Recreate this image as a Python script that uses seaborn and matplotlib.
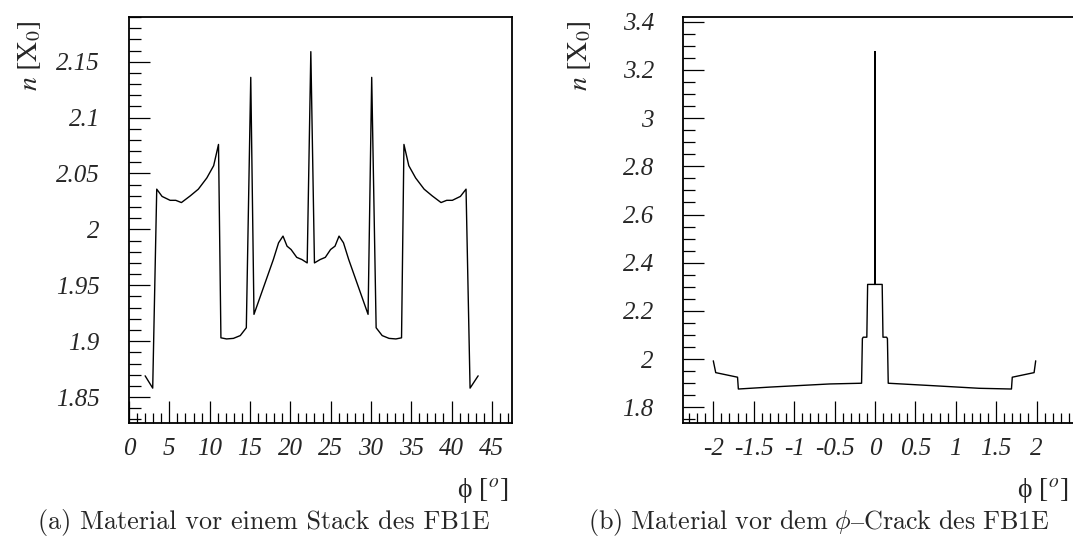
import numpy as np
import pandas as pd
import seaborn as sns
import matplotlib.pyplot as plt
from matplotlib.ticker import MultipleLocator

# (a) material in front of one stack, phi in degrees
phi_a = [2.0, 2.94, 3.44, 4.1, 5.1, 5.8, 6.5, 7.6, 8.6, 9.65,
         10.5, 11.1, 11.4, 12.1, 12.95, 13.8, 14.55, 15.1, 15.5, 17.9,
         18.55, 19.1, 19.6, 20.1, 20.8, 21.45, 22.1, 22.55, 23.0, 23.7,
         24.35, 25.0, 25.55, 26.05, 26.6, 27.25, 29.65, 30.1, 30.65, 31.4,
         32.25, 33.1, 33.8, 34.1, 34.7, 35.55, 36.6, 37.6, 38.7, 39.4,
         40.1, 41.1, 41.8, 42.3, 43.3]
n_a = [1.869, 1.858, 2.036, 2.0295, 2.026, 2.026, 2.024, 2.030, 2.036, 2.046,
       2.057, 2.076, 1.903, 1.902, 1.9025, 1.905, 1.912, 2.136, 1.924, 1.973,
       1.988, 1.994, 1.985, 1.982, 1.975, 1.973, 1.970, 2.159, 1.970, 1.973,
       1.975, 1.982, 1.985, 1.994, 1.988, 1.973, 1.924, 2.136, 1.912, 1.905,
       1.9025, 1.902, 1.903, 2.076, 2.057, 2.046, 2.036, 2.030, 2.024, 2.026,
       2.026, 2.0295, 2.036, 1.858, 1.869]

# (b) material in front of the phi crack
phi_b = [-2.0, -1.97, -1.70, -1.69, -1.30, -0.56, -0.165, -0.155, -0.145, -0.10,
         -0.09, 0.0, 0.0, 0.0, 0.09, 0.10, 0.145, 0.155, 0.165, 0.71,
         1.29, 1.69, 1.70, 1.97, 1.99]
n_b = [1.993, 1.944, 1.925, 1.876, 1.884, 1.897, 1.900, 2.085, 2.091, 2.091,
       2.310, 2.310, 3.276, 2.310, 2.310, 2.091, 2.091, 2.085, 1.900, 1.890,
       1.879, 1.876, 1.925, 1.944, 1.993]

ticks_a = [0, 5, 10, 15, 20, 25, 30, 35, 40, 45]
ticks_b = [-2, -1.5, -1, -0.5, 0, 0.5, 1, 1.5, 2]
tick_labels_b = ['-2', '-1.5', '-1', '-0.5', '0', '0.5', '1', '1.5', '2']

sns.set_theme(style='ticks')
plt.rcParams['font.family'] = ['Liberation Serif', 'DejaVu Serif']
plt.rcParams['mathtext.fontset'] = 'stix'
plt.rcParams['axes.unicode_minus'] = False

fig = plt.figure(figsize=(10.73, 5.44), dpi=100)
ax1 = fig.add_axes([129 / 1073, 121 / 544, 383 / 1073, 406 / 544])
# right panel runs past the edge of the page, as in the scan
ax2 = fig.add_axes([683 / 1073, 121 / 544, 399 / 1073, 406 / 544])

df_a = pd.DataFrame({'phi': phi_a, 'n': n_a})
df_b = pd.DataFrame({'phi': phi_b, 'n': n_b})
sns.lineplot(data=df_a, x='phi', y='n', ax=ax1, sort=False, estimator=None,
             color='black', linewidth=1.0)
sns.lineplot(data=df_b, x='phi', y='n', ax=ax2, sort=False, estimator=None,
             color='black', linewidth=1.0)

ax1.set_xlim(0, 47.5)
ax1.set_ylim(1.8268, 2.190)
ax1.set_xticks(ticks_a)
ax1.set_xticklabels([str(t) for t in ticks_a])
ax1.xaxis.set_minor_locator(MultipleLocator(1))
ax1.set_yticks([1.85, 1.9, 1.95, 2.0, 2.05, 2.1, 2.15])
ax1.set_yticklabels(['1.85', '1.9', '1.95', '2', '2.05', '2.1', '2.15'])
ax1.yaxis.set_minor_locator(MultipleLocator(0.01))

ax2.set_xlim(-2.375, 2.563)
ax2.set_ylim(1.735, 3.4195)
ax2.set_xticks(ticks_b)
ax2.set_xticklabels(tick_labels_b)
ax2.xaxis.set_minor_locator(MultipleLocator(0.1))
ax2.set_yticks([1.8, 2.0, 2.2, 2.4, 2.6, 2.8, 3.0, 3.2, 3.4])
ax2.set_yticklabels(['1.8', '2', '2.2', '2.4', '2.6', '2.8', '3', '3.2', '3.4'])
ax2.yaxis.set_minor_locator(MultipleLocator(0.05))

for ax, xlab_x in [(ax1, 0.99), (ax2, 0.965)]:
    for s in ax.spines.values():
        s.set_linewidth(1.3)
        s.set_color('black')
    ax.tick_params(which='both', direction='in', top=False, right=False,
                   width=0.9, color='black')
    ax.tick_params(axis='y', which='major', length=15, pad=21, labelsize=18)
    ax.tick_params(axis='y', which='minor', length=8.5)
    ax.tick_params(axis='x', which='major', length=16, pad=11, labelsize=18)
    ax.tick_params(axis='x', which='minor', length=7.5)
    for lab in ax.get_xticklabels() + ax.get_yticklabels():
        lab.set_fontstyle('italic')
    ax.set_ylabel(r'$n\ [\mathrm{X}_{\mathit{0}}]$', fontsize=20, loc='top')
    ax.yaxis.set_label_coords(-0.225, 0.99)
    ax.set_xlabel('ϕ [$^{\\mathit{o}}$]', fontsize=20, loc='right')
    ax.xaxis.set_label_coords(xlab_x, -0.13)
    ax.grid(False)

fig.text(264 / 1073, 1 - 523 / 544, '(a) Material vor einem Stack des FB1E',
         ha='center', va='center', fontsize=18.8, family=['cmr10', 'DejaVu Serif'])
fig.text(819 / 1073, 1 - 523 / 544,
         r'$\mathrm{(b)\ Material\ vor\ dem\ }\phi\mathrm{–Crack\ des\ FB1E}$',
         ha='center', va='center', fontsize=18.8, math_fontfamily='cm')

fig.savefig('out.png', dpi=100)
